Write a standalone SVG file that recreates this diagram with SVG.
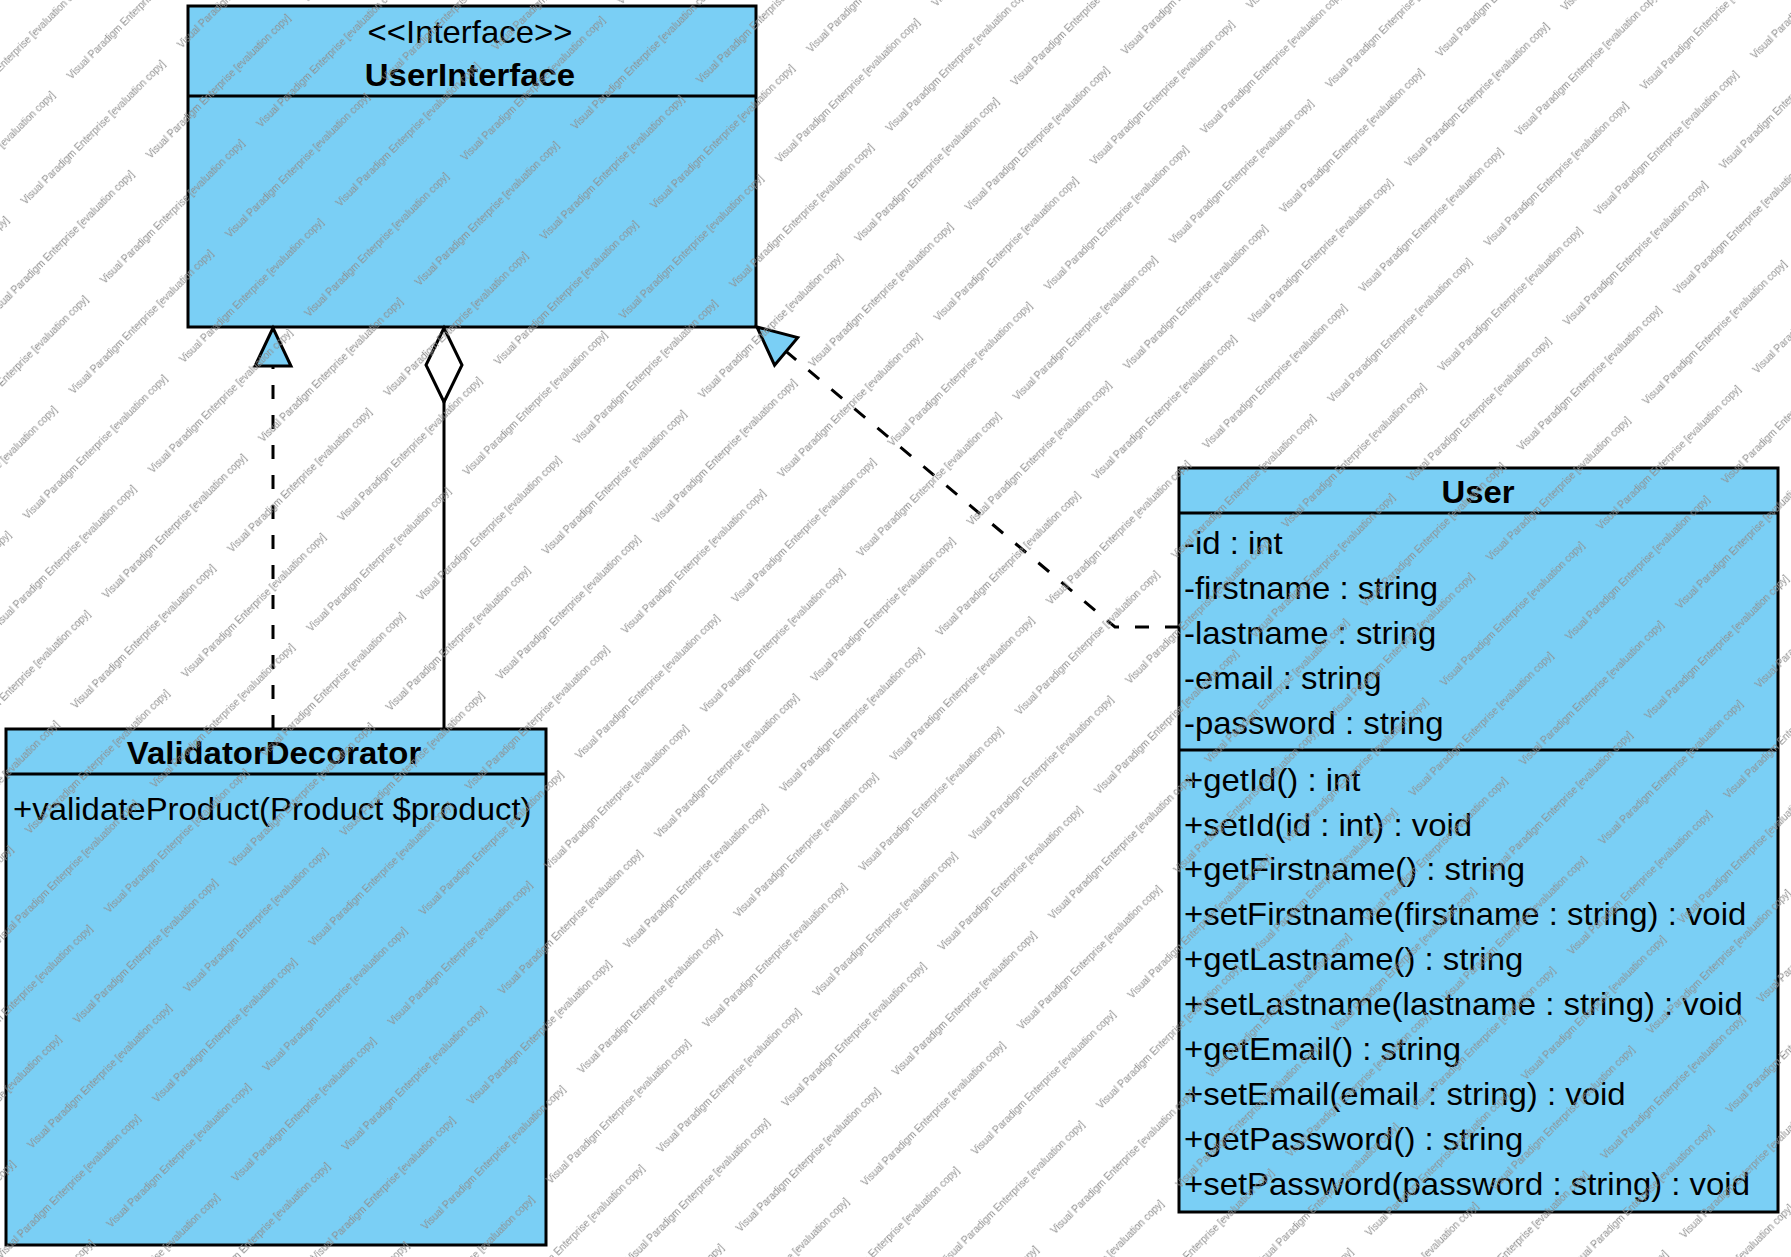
<svg xmlns="http://www.w3.org/2000/svg" width="1791" height="1257" viewBox="0 0 1791 1257">
<style>
.box{fill:#7acff5;stroke:#000;stroke-width:3}
.sep{stroke:#000;stroke-width:3;fill:none}
.t{font-family:"Liberation Sans",Arial,sans-serif;font-size:31.5px;fill:#000}
.b{font-family:"Liberation Sans",Arial,sans-serif;font-size:31.5px;font-weight:bold;fill:#000}
.c{text-anchor:middle}
.solid{stroke:#000;stroke-width:3;fill:none}
.dash{stroke:#000;stroke-width:3;fill:none;stroke-dasharray:14 16}
.wm{font-family:"Liberation Sans",Arial,sans-serif;font-size:10px;fill:#8e8e8e}
</style>
<defs>
<marker id="tri" markerUnits="userSpaceOnUse" viewBox="0 0 38 36" refX="38" refY="18" markerWidth="38" markerHeight="36" orient="auto" overflow="visible">
<path d="M38,18 L0,0 L0,36 Z" fill="#7acff5" stroke="#000" stroke-width="3" stroke-linejoin="miter"/>
</marker>
<marker id="dia" markerUnits="userSpaceOnUse" viewBox="0 0 74 36" refX="74" refY="18" markerWidth="74" markerHeight="36" orient="auto" overflow="visible">
<path d="M0,18 L37,0 L74,18 L37,36 Z" fill="#fff" stroke="#000" stroke-width="3"/>
</marker>
<pattern id="wmp" patternUnits="userSpaceOnUse" width="221" height="112" patternTransform="rotate(-45)">
<text class="wm" x="94" y="51">Visual Paradigm Enterprise [evaluation copy]</text>
<text class="wm" x="-127" y="51">Visual Paradigm Enterprise [evaluation copy]</text>
<text class="wm" x="-6" y="107">Visual Paradigm Enterprise [evaluation copy]</text>
<text class="wm" x="215" y="107">Visual Paradigm Enterprise [evaluation copy]</text>
</pattern>
</defs>
<rect x="0" y="0" width="1791" height="1257" fill="#fff"/>

<g id="UserInterface">
<rect class="box" x="188" y="6" width="568" height="321"/>
<line class="sep" x1="188" y1="96" x2="756" y2="96"/>
<text class="t c" transform="translate(470,43) scale(1.045,1)">&lt;&lt;Interface&gt;&gt;</text>
<text class="b c" transform="translate(470,86) scale(1.045,1)">UserInterface</text>
</g>

<g id="User">
<rect class="box" x="1179" y="468" width="599" height="744"/>
<line class="sep" x1="1179" y1="513" x2="1778" y2="513"/>
<line class="sep" x1="1179" y1="750" x2="1778" y2="750"/>
<text class="b c" transform="translate(1478,503) scale(1.045,1)">User</text>
<text class="t" transform="translate(1184,554) scale(1.045,1)">-id : int</text>
<text class="t" transform="translate(1184,599) scale(1.045,1)">-firstname : string</text>
<text class="t" transform="translate(1184,644) scale(1.045,1)">-lastname : string</text>
<text class="t" transform="translate(1184,689) scale(1.045,1)">-email : string</text>
<text class="t" transform="translate(1184,734) scale(1.045,1)">-password : string</text>
<text class="t" transform="translate(1184,791) scale(1.045,1)">+getId() : int</text>
<text class="t" transform="translate(1184,836) scale(1.045,1)">+setId(id : int) : void</text>
<text class="t" transform="translate(1184,880) scale(1.045,1)">+getFirstname() : string</text>
<text class="t" transform="translate(1184,925) scale(1.045,1)">+setFirstname(firstname : string) : void</text>
<text class="t" transform="translate(1184,970) scale(1.045,1)">+getLastname() : string</text>
<text class="t" transform="translate(1184,1015) scale(1.045,1)">+setLastname(lastname : string) : void</text>
<text class="t" transform="translate(1184,1060) scale(1.045,1)">+getEmail() : string</text>
<text class="t" transform="translate(1184,1105) scale(1.045,1)">+setEmail(email : string) : void</text>
<text class="t" transform="translate(1184,1150) scale(1.045,1)">+getPassword() : string</text>
<text class="t" transform="translate(1184,1195) scale(1.045,1)">+setPassword(password : string) : void</text>
</g>

<g id="ValidatorDecorator">
<rect class="box" x="6" y="729" width="540" height="516"/>
<line class="sep" x1="6" y1="774" x2="546" y2="774"/>
<text class="b c" transform="translate(274,764) scale(1.045,1)">ValidatorDecorator</text>
<text class="t" transform="translate(13,820) scale(1.045,1)">+validateProduct(Product $product)</text>
</g>

<g id="connectors">
<path class="dash" d="M273,729 V328" marker-end="url(#tri)"/>
<path class="solid" d="M444,729 V328" marker-end="url(#dia)"/>
<path class="dash" d="M1179,627 H1115 L757,327" marker-end="url(#tri)"/>
</g>

<rect x="0" y="0" width="1791" height="1257" fill="url(#wmp)" pointer-events="none"/>
</svg>
